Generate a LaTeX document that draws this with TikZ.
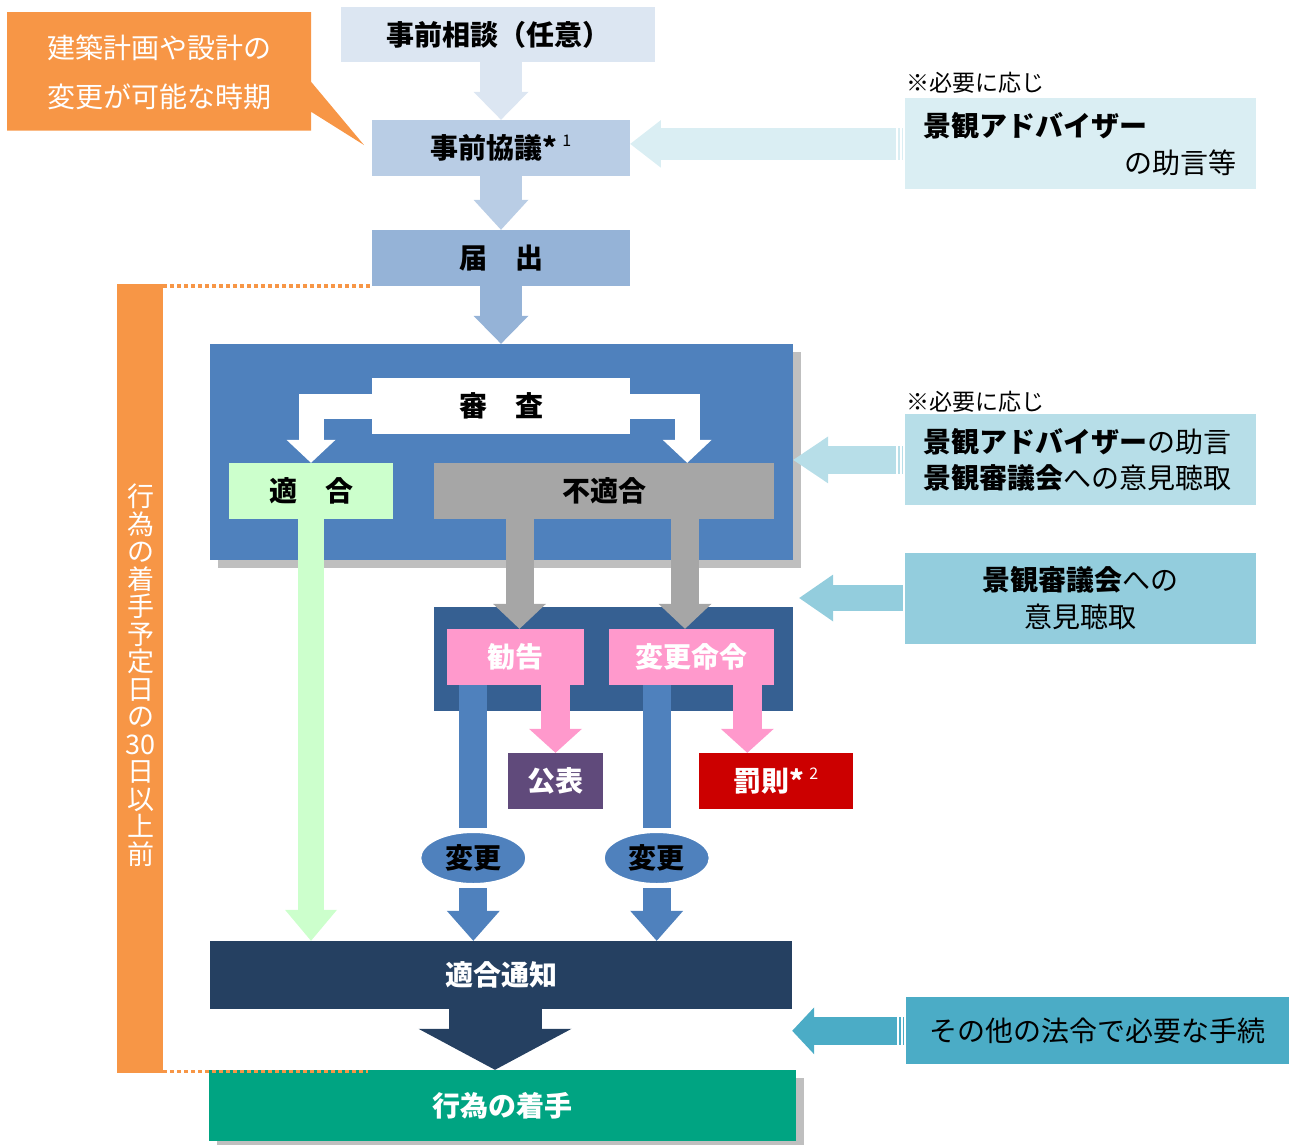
\documentclass[tikz,border=0pt]{standalone}
\usepackage{fontspec}
\setmainfont{Noto Sans CJK JP}
\usetikzlibrary{arrows.meta,shapes.geometric,shadows,calc,positioning}
\definecolor{consultblue}{HTML}{DCE6F2}
\definecolor{priorblue}{HTML}{B9CDE5}
\definecolor{notifyblue}{HTML}{95B3D7}
\definecolor{reviewblue}{HTML}{4F81BD}
\definecolor{shadowgray}{HTML}{BFBFBF}
\definecolor{fitgreen}{HTML}{CCFFCC}
\definecolor{nofitgray}{HTML}{A6A6A6}
\definecolor{orderblue}{HTML}{366092}
\definecolor{warnpink}{HTML}{FF99CC}
\definecolor{publishpurple}{HTML}{604A7B}
\definecolor{penaltyred}{HTML}{CC0000}
\definecolor{noticenavy}{HTML}{254061}
\definecolor{startteal}{HTML}{00A482}
\definecolor{periodorange}{HTML}{F79646}
\definecolor{advpale}{HTML}{DAEEF3}
\definecolor{advmid}{HTML}{B7DEE8}
\definecolor{advdeep}{HTML}{93CDDD}
\definecolor{lawblue}{HTML}{4BACC6}
\tikzset{
  lbl/.style = {rectangle, inner sep=0pt, font=\bfseries\fontsize{28}{32}\selectfont},
  fat/.style n args = {4}{draw=#1, line width=#2, -{Triangle[length=#3, width=#4, line width=0pt]}},
  shadowed/.style = {drop shadow={shadow xshift=8pt, shadow yshift=-8pt, fill=shadowgray, opacity=1}},
  sidebox/.style = {rectangle, inner sep=0pt, minimum width=350.7pt, minimum height=91pt, font=\fontsize{28}{36.5}\selectfont},
  asneeded/.style = {inner sep=0pt, anchor=west, font=\fontsize{23}{26}\selectfont},
  period/.style = {periodorange, line width=3.5pt, dash pattern=on 4pt off 3pt}
}
\newcommand{\supmark}[1]{\,\raisebox{.45em}{\mdseries\fontsize{16}{16}\selectfont #1}}

\begin{document}
\begin{tikzpicture}[x=1pt,y=-1pt]
  \pgfmathsetmacro{\xmid}{501};
  \pgfmathsetmacro{\xside}{1080.4};
  \useasboundingbox (0,0) rectangle (1293,1144);

  \fill[periodorange] (7,12) -- (311,12) -- (311,81.7) -- (364,145) -- (311,111.7) -- (311,130.7) -- (7,130.7) -- cycle;
  \node[inner sep=0pt, text=white, align=center, font=\fontsize{28}{48.4}\selectfont] (callout) at (159,72.5) {建築計画や設計の\\変更が可能な時期};
  \node[fill=periodorange, inner sep=0pt, minimum width=45.6pt, minimum height=789pt] (bar) at (140.2,678.5) {};
  \node[inner sep=0pt, text=white, align=center, font=\fontsize{27}{27.5}\selectfont] (days) at (140.5,675) {行\\為\\の\\着\\手\\予\\定\\日\\の\\30\\日\\以\\上\\前};

  \node[lbl, fill=consultblue, minimum width=314pt, minimum height=55pt] (consult) at (498,34.5) {事前相談（任意）};
  \node[lbl, fill=priorblue, minimum width=258pt, minimum height=56pt] (prior) at (\xmid,148) {事前協議*\supmark{1}};
  \node[lbl, fill=notifyblue, minimum width=258pt, minimum height=56pt] (notify) at (\xmid,258) {届　出};
  \draw[fat={consultblue}{42pt}{28pt}{55pt}] (consult.south -| prior) -- (prior.north);
  \draw[fat={priorblue}{42pt}{30pt}{55pt}] (prior.south) -- (notify.north);

  \node[fill=reviewblue, inner sep=0pt, minimum width=583pt, minimum height=216pt, shadowed] (bigbox) at (501.5,452) {};
  \draw[fat={notifyblue}{42pt}{28pt}{55pt}] (notify.south) -- (notify.south |- bigbox.north);
  \node[lbl, fill=white, minimum width=258pt, minimum height=56pt] (review) at (\xmid,406) {審　査};
  \node[lbl, fill=fitgreen, minimum width=164pt, minimum height=56pt] (fit) at (311,491) {適　合};
  \node[lbl, fill=nofitgray, minimum width=340pt, minimum height=56pt] (nofit) at (604,491) {不適合};
  \coordinate (nofitin) at ($(nofit.north east)+(-87,0)$);
  \draw[fat={white}{25pt}{23pt}{49pt}] (review.west) -| (fit.north);
  \draw[fat={white}{25pt}{23pt}{49pt}] (review.east) -| (nofitin);

  \node[fill=orderblue, inner sep=0pt, minimum width=359pt, minimum height=104pt] (box2) at (613.5,658.7) {};
  \node[lbl, fill=warnpink, text=white, minimum width=137pt, minimum height=56pt] (kankoku) at (515.5,657) {勧告};
  \node[lbl, fill=warnpink, text=white, minimum width=165pt, minimum height=56pt] (order) at (691.5,657) {変更命令};
  \coordinate (grayL) at (519.5,0);
  \coordinate (grayR) at (685,0);
  \draw[fat={nofitgray}{28pt}{25pt}{53pt}] (nofit.south -| grayL) -- (kankoku.north -| grayL);
  \draw[fat={nofitgray}{28pt}{25pt}{53pt}] (nofit.south -| grayR) -- (order.north -| grayR);

  \node[lbl, fill=publishpurple, text=white, minimum width=95pt, minimum height=56pt] (publish) at (555.5,781) {公表};
  \node[lbl, fill=penaltyred, text=white, minimum width=154pt, minimum height=56pt] (penalty) at (776,781) {罰則*\supmark{2}};
  \node[lbl, ellipse, fill=reviewblue, draw=white, line width=2pt, minimum width=106pt, minimum height=52pt] (change1) at (473.3,858) {変更};
  \node[lbl, ellipse, fill=reviewblue, draw=white, line width=2pt, minimum width=106pt, minimum height=52pt] (change2) at (656.7,858) {変更};
  \node[lbl, fill=noticenavy, text=white, minimum width=582pt, minimum height=68pt] (notice) at (\xmid,975) {適合通知};
  \node[lbl, fill=startteal, text=white, minimum width=587pt, minimum height=71pt, shadowed] (start) at (502,1105.5) {行為の着手};
  \coordinate (pinkR) at (747.3,0);
  \coordinate (darkcol) at (495,0);
  \draw[fat={warnpink}{28.5pt}{24pt}{53pt}] (kankoku.south -| publish) -- (publish.north);
  \draw[fat={warnpink}{28.5pt}{24pt}{53pt}] (order.south -| pinkR) -- (penalty.north -| pinkR);
  \draw[reviewblue, line width=28pt, shorten >=3pt] (kankoku.south -| change1) -- (change1.north);
  \draw[reviewblue, line width=28pt, shorten >=3pt] (order.south -| change2) -- (change2.north);
  \draw[fat={reviewblue}{28pt}{30pt}{53pt}, shorten <=3pt] (change1.south) -- (notice.north -| change1);
  \draw[fat={reviewblue}{28pt}{30pt}{53pt}, shorten <=3pt] (change2.south) -- (notice.north -| change2);
  \draw[fat={fitgreen}{26pt}{31pt}{52pt}] (fit.south) -- (notice.north -| fit);
  \draw[fat={noticenavy}{93pt}{41pt}{153pt}] (notice.south -| darkcol) -- (start.north -| darkcol);

  \draw[period] (bar.north east |- notify.south) -- (notify.south west);
  \draw[period] ($(bar.south east)+(0,-1.5)$) -- ++(205,0);

  \node[sidebox, fill=advpale, text width=313pt, inner xsep=18.85pt, align=left] (adv1) at (\xside,143.9) {{\bfseries 景観アドバイザー}\\\hspace*{\fill}の助言等};
  \node[asneeded] (note1) at ($(adv1.north west)+(1,-15)$) {※必要に応じ};
  \node[sidebox, fill=advmid, text width=313pt, inner xsep=18.85pt, align=left] (adv2) at (\xside,459.9) {{\bfseries 景観アドバイザー}の助言\\{\bfseries 景観審議会}への意見聴取};
  \node[asneeded] (note2) at ($(adv2.north west)+(1,-12)$) {※必要に応じ};
  \node[sidebox, fill=advdeep, align=center] (adv3) at (\xside,598) {{\bfseries 景観審議会}への\\意見聴取};
  \node[sidebox, fill=lawblue, minimum width=383pt, minimum height=67pt] (law) at (1097.5,1030.8) {その他の法令で必要な手続};

  \draw[fat={advpale}{31.7pt}{30.7pt}{47.6pt}, shorten <=1.7pt] (adv1.west) -- (prior.east |- adv1.west);
  \draw[fat={advmid}{27.5pt}{35pt}{47pt}, shorten <=1.7pt] (adv2.west) -- (bigbox.east |- adv2.west);
  \draw[fat={advdeep}{26.7pt}{34pt}{47pt}, shorten <=2pt] (adv3.west) -- ($(bigbox.east |- adv3.west)+(6,0)$);
  \draw[fat={lawblue}{28pt}{22pt}{47pt}, shorten <=1.7pt] (law.west) -- (notice.east |- law.west);
  \foreach \src in {adv1,adv2,law}
    \foreach \dx in {-7.7,-4.2}
      \draw[white, line width=2pt] ($(\src.west)+(\dx,-17)$) -- ++(0,34);
\end{tikzpicture}
\end{document}
